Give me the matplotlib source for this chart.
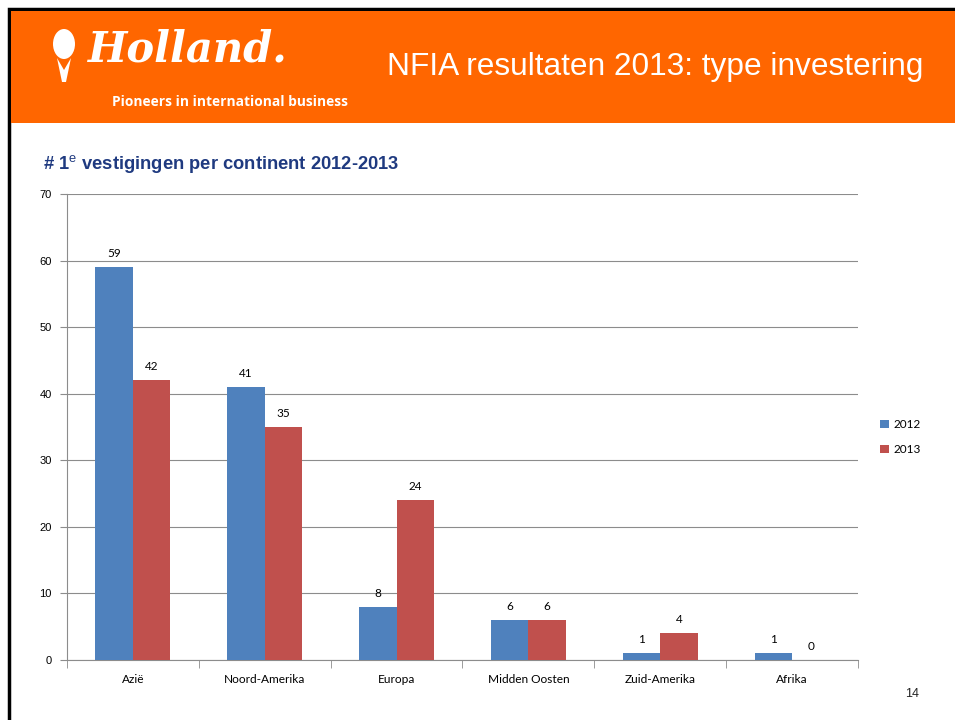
import numpy as np
import matplotlib.pyplot as plt
import matplotlib.patches as mpatches

# data
continents = ['Azië', 'Noord-Amerika', 'Europa', 'Midden Oosten', 'Zuid-Amerika', 'Afrika']
vals_2012 = [59, 41, 8, 6, 1, 1]
vals_2013 = [42, 35, 24, 6, 4, 0]
years = ['2012', '2013']

blue = '#4F81BD'
red = '#C0504D'
orange = '#FF6600'

plt.rcParams['mathtext.fontset'] = 'custom'
plt.rcParams['mathtext.rm'] = 'Liberation Sans'
plt.rcParams['mathtext.bf'] = 'Liberation Sans:bold'

fig = plt.figure(figsize=(9.55, 7.2), dpi=100)
fig.patch.set_facecolor('white')

# slide frame and orange header band
fig.add_artist(mpatches.Rectangle((9 / 955, -0.05), 955, 1.05 - 9 / 720, transform=fig.transFigure,
                                  facecolor='none', edgecolor='black', linewidth=2.5))
fig.add_artist(mpatches.Rectangle((11 / 955, 1 - 123 / 720), 1, 112 / 720, transform=fig.transFigure,
                                  facecolor=orange, edgecolor='none'))

# simple tulip + "Holland" logo
fig.add_artist(mpatches.Ellipse((64 / 955, 1 - 44 / 720), 22 / 955, 30 / 720, transform=fig.transFigure,
                                facecolor='white', edgecolor='none'))
fig.add_artist(mpatches.Polygon([(57 / 955, 1 - 58 / 720), (62 / 955, 1 - 82 / 720), (66 / 955, 1 - 82 / 720),
                                 (71 / 955, 1 - 58 / 720), (64 / 955, 1 - 70 / 720)],
                                transform=fig.transFigure, facecolor='white', edgecolor='none'))
fig.text(88 / 955, 1 - 50 / 720, 'Holland.', color='white', fontsize=30, fontweight='bold',
         fontstyle='italic', family='DejaVu Serif', va='center', ha='left')
fig.text(112 / 955, 1 - 102 / 720, 'Pioneers in international business', color='white',
         fontsize=9.9, fontweight='bold', family='Open Sans', va='center', ha='left')

fig.text(387 / 955, 1 - 67 / 720, 'NFIA resultaten 2013: type investering', color='white',
         fontsize=22.8, family='Liberation Sans', va='center', ha='left')

fig.text(43 / 955, 1 - 164 / 720, r'# 1$^{\mathrm{e}}$ vestigingen per continent 2012-2013', color='#1F3A80',
         fontsize=13.2, fontweight='bold', family='Liberation Sans', va='center', ha='left')

fig.text(905 / 955, 1 - 694 / 720, '14', color='#222222', fontsize=9, family='Liberation Sans',
         va='center', ha='left')

# chart
ax = fig.add_axes([67 / 955, 60 / 720, 791 / 955, 466 / 720])
x = np.arange(len(continents))
w = 0.285
b1 = ax.bar(x - w / 2, vals_2012, w, color=blue, label=years[0], zorder=3)
b2 = ax.bar(x + w / 2, vals_2013, w, color=red, label=years[1], zorder=3)
for bars in (b1, b2):
    for bar in bars:
        h = bar.get_height()
        ax.text(bar.get_x() + bar.get_width() / 2, h + 1.2, f'{h:g}', ha='center', va='bottom',
                fontsize=8.5, family='Lato', color='black')

ax.set_xlim(-0.5, 5.5)
ax.set_ylim(0, 70)
ax.set_yticks(range(0, 71, 10))
ax.yaxis.grid(True, color='#8C8C8C', linewidth=0.8, zorder=0)
ax.set_xticks(x)
ax.set_xticklabels(continents, family='Lato', fontsize=8.6)
ax.tick_params(axis='x', length=0, pad=10)
ax.set_xticks(np.arange(-0.5, 6, 1), minor=True)
ax.tick_params(axis='x', which='minor', length=6, color='#8C8C8C', direction='out')
ax.tick_params(axis='y', length=5, color='#8C8C8C', labelsize=8, pad=6)
for lab in ax.get_yticklabels():
    lab.set_family('Liberation Sans')
for s in ['top', 'right']:
    ax.spines[s].set_visible(False)
for s in ['left', 'bottom']:
    ax.spines[s].set_color('#8C8C8C')

ax.legend(loc='center left', bbox_to_anchor=(1.015, 0.478), frameon=False, handlelength=0.7,
          handleheight=0.7, handletextpad=0.4, labelspacing=1.2, prop={'family': 'Lato', 'size': 8.5})

fig.savefig('out.png', dpi=100)
